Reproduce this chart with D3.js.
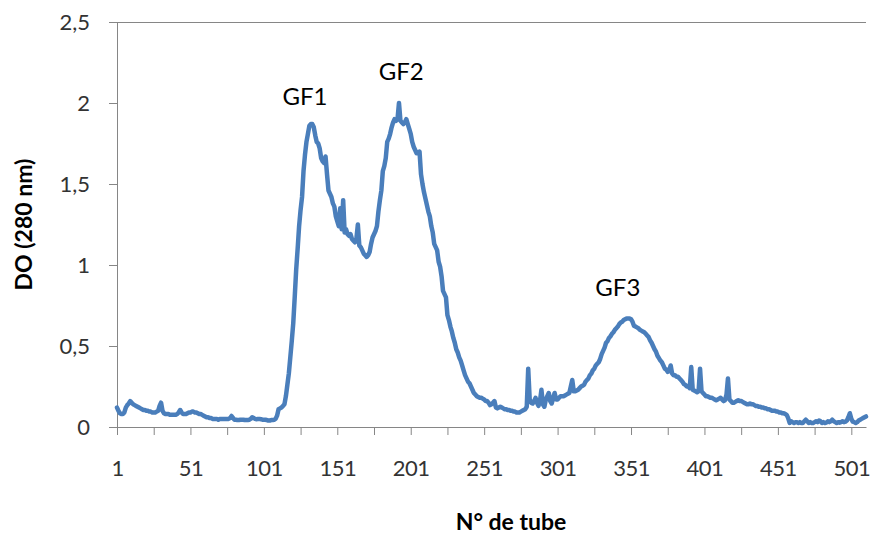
<!DOCTYPE html>
<html>
<head>
<meta charset="utf-8">
<script src="https://cdn.jsdelivr.net/npm/d3@7"></script>
<style>
  body { margin: 0; background: #fff; }
  text { font-family: Lato, "Open Sans", sans-serif; }
</style>
</head>
<body>
<div id="chart"></div>
<script>
// DO at 280 nm, one value per tube (tube 1 .. 511)
const od = [
  0.12, 0.10, 0.085, 0.08, 0.08, 0.09, 0.12, 0.135, 0.145, 0.16,
  0.15, 0.14, 0.135, 0.13, 0.125, 0.12, 0.115, 0.11, 0.105, 0.105,
  0.10, 0.10, 0.095, 0.095, 0.09, 0.09, 0.09, 0.095, 0.10, 0.13,
  0.15, 0.10, 0.085, 0.08, 0.08, 0.08, 0.075, 0.075, 0.075, 0.075,
  0.075, 0.08, 0.09, 0.105, 0.09, 0.08, 0.08, 0.08, 0.085, 0.09,
  0.09, 0.095, 0.095, 0.09, 0.09, 0.085, 0.08, 0.08, 0.075, 0.07,
  0.065, 0.06, 0.06, 0.055, 0.055, 0.05, 0.05, 0.05, 0.05, 0.045,
  0.05, 0.05, 0.05, 0.05, 0.05, 0.05, 0.05, 0.055, 0.068, 0.055,
  0.045, 0.045, 0.043, 0.043, 0.045, 0.045, 0.045, 0.043, 0.043, 0.043,
  0.045, 0.05, 0.06, 0.055, 0.05, 0.048, 0.05, 0.05, 0.048, 0.045,
  0.045, 0.045, 0.043, 0.04, 0.04, 0.043, 0.043, 0.045, 0.05, 0.07,
  0.11, 0.115, 0.12, 0.13, 0.14, 0.19, 0.26, 0.33, 0.43, 0.53,
  0.64, 0.80, 0.97, 1.10, 1.24, 1.34, 1.42, 1.58, 1.68, 1.76,
  1.81, 1.86, 1.87, 1.87, 1.85, 1.80, 1.76, 1.75, 1.72, 1.66,
  1.64, 1.63, 1.67, 1.56, 1.46, 1.44, 1.42, 1.38, 1.36, 1.30,
  1.27, 1.24, 1.35, 1.22, 1.40, 1.20, 1.22, 1.19, 1.18, 1.19,
  1.16, 1.15, 1.14, 1.16, 1.25, 1.12, 1.11, 1.09, 1.07, 1.06,
  1.05, 1.06, 1.08, 1.13, 1.17, 1.19, 1.21, 1.24, 1.33, 1.40,
  1.46, 1.58, 1.61, 1.66, 1.76, 1.78, 1.81, 1.85, 1.88, 1.90,
  1.89, 1.90, 2.00, 1.89, 1.88, 1.87, 1.88, 1.90, 1.87, 1.84,
  1.81, 1.76, 1.73, 1.71, 1.69, 1.69, 1.70, 1.56, 1.50, 1.45,
  1.41, 1.37, 1.33, 1.30, 1.24, 1.20, 1.13, 1.11, 1.09, 1.02,
  0.99, 0.93, 0.84, 0.82, 0.80, 0.69, 0.66, 0.62, 0.59, 0.55,
  0.52, 0.48, 0.46, 0.43, 0.41, 0.38, 0.35, 0.32, 0.30, 0.28,
  0.27, 0.25, 0.23, 0.21, 0.20, 0.19, 0.185, 0.18, 0.18, 0.175,
  0.17, 0.16, 0.16, 0.15, 0.135, 0.14, 0.15, 0.16, 0.12, 0.115,
  0.12, 0.125, 0.12, 0.115, 0.11, 0.11, 0.105, 0.105, 0.10, 0.10,
  0.095, 0.095, 0.09, 0.09, 0.09, 0.095, 0.10, 0.105, 0.11, 0.125,
  0.36, 0.17, 0.15, 0.145, 0.16, 0.18, 0.15, 0.13, 0.16, 0.23,
  0.14, 0.125, 0.17, 0.19, 0.21, 0.16, 0.145, 0.18, 0.21, 0.17,
  0.17, 0.18, 0.19, 0.19, 0.19, 0.195, 0.20, 0.205, 0.21, 0.25,
  0.29, 0.22, 0.22, 0.225, 0.23, 0.24, 0.25, 0.255, 0.26, 0.28,
  0.29, 0.30, 0.32, 0.33, 0.35, 0.36, 0.38, 0.39, 0.40, 0.42,
  0.45, 0.47, 0.49, 0.52, 0.53, 0.55, 0.56, 0.575, 0.585, 0.60,
  0.61, 0.62, 0.635, 0.645, 0.65, 0.66, 0.665, 0.67, 0.67, 0.67,
  0.665, 0.65, 0.625, 0.62, 0.615, 0.61, 0.60, 0.595, 0.59, 0.585,
  0.575, 0.565, 0.555, 0.535, 0.52, 0.50, 0.48, 0.465, 0.44, 0.425,
  0.41, 0.40, 0.38, 0.36, 0.355, 0.34, 0.35, 0.38, 0.33, 0.32,
  0.32, 0.31, 0.31, 0.30, 0.29, 0.28, 0.265, 0.26, 0.25, 0.25,
  0.24, 0.37, 0.23, 0.225, 0.22, 0.215, 0.22, 0.36, 0.22, 0.21,
  0.20, 0.19, 0.19, 0.185, 0.18, 0.18, 0.175, 0.17, 0.165, 0.17,
  0.175, 0.18, 0.17, 0.16, 0.165, 0.20, 0.30, 0.17, 0.16, 0.15,
  0.15, 0.155, 0.16, 0.165, 0.16, 0.16, 0.155, 0.15, 0.145, 0.14,
  0.14, 0.145, 0.14, 0.14, 0.135, 0.13, 0.13, 0.125, 0.125, 0.12,
  0.12, 0.115, 0.115, 0.11, 0.11, 0.105, 0.10, 0.10, 0.10, 0.095,
  0.095, 0.09, 0.09, 0.085, 0.085, 0.08, 0.075, 0.055, 0.025, 0.035,
  0.03, 0.025, 0.03, 0.03, 0.025, 0.03, 0.025, 0.025, 0.035, 0.045,
  0.035, 0.025, 0.03, 0.025, 0.025, 0.03, 0.035, 0.03, 0.04, 0.035,
  0.025, 0.03, 0.025, 0.027, 0.035, 0.03, 0.035, 0.045, 0.035, 0.03,
  0.025, 0.03, 0.027, 0.03, 0.035, 0.03, 0.033, 0.04, 0.06, 0.085,
  0.05, 0.033, 0.03, 0.025, 0.03, 0.04, 0.045, 0.05, 0.055, 0.06, 0.065
];

const xTickMarks = [1, 26, 51, 76, 101, 126, 151, 176, 201, 226, 251, 276,
                    301, 326, 351, 376, 401, 426, 451, 476, 501];
const xTickLabels = [1, 51, 101, 151, 201, 251, 301, 351, 401, 451, 501];
const yTicks = [0, 0.5, 1, 1.5, 2, 2.5];

// peak names, placed over the peaks (tube, DO of the text baseline)
const peakNames = ["GF1", "GF2", "GF3"];
const peakTubes = [129, 194.5, 342];
const peakLevels = [1.99, 2.145, 0.81];

const margin = {top: 22, right: 4, bottom: 109, left: 117},
    width = 870 - margin.left - margin.right,
    height = 536 - margin.top - margin.bottom;

const svg = d3.select("#chart")
    .append("svg")
    .attr("width", 870)
    .attr("height", 536)
    .append("g")
    .attr("transform", `translate(${margin.left}, ${margin.top})`);

const x = d3.scaleLinear()
    .domain([1, od.length])
    .range([0, width]);

const y = d3.scaleLinear()
    .domain([0, 2.5])
    .range([height, 0]);

const axisColor = "#868686";
const fmt = d => String(d).replace(".", ",");

// top border
svg.append("line")
    .attr("x1", 0).attr("x2", width)
    .attr("y1", 0.5).attr("y2", 0.5)
    .attr("stroke", axisColor);

// y axis
const yAxis = svg.append("g")
    .call(d3.axisLeft(y).tickValues(yTicks).tickSize(8).tickPadding(19).tickFormat(fmt));
yAxis.select(".domain").attr("stroke", axisColor);
yAxis.selectAll(".tick line").attr("stroke", axisColor);
yAxis.selectAll("text")
    .attr("font-family", "Lato, sans-serif")
    .attr("font-size", "22px")
    .attr("fill", "#333");

// x axis: tick marks every 25 tubes, labels every 50
const xAxis = svg.append("g")
    .attr("transform", `translate(0, ${height})`)
    .call(d3.axisBottom(x).tickValues(xTickMarks).tickSize(8).tickSizeOuter(0)
        .tickFormat(d => xTickLabels.includes(d) ? d : ""));
xAxis.select(".domain").attr("stroke", axisColor);
xAxis.selectAll(".tick line").attr("stroke", axisColor);
xAxis.selectAll("text")
    .attr("font-family", "Lato, sans-serif")
    .attr("font-size", "22px")
    .attr("letter-spacing", "-0.5px")
    .attr("fill", "#333")
    .attr("y", 49)
    .attr("dy", 0);

// curve
const line = d3.line()
    .x((d, i) => x(i + 1))
    .y(d => y(d));

svg.append("path")
    .datum(od)
    .attr("fill", "none")
    .attr("stroke", "#4a7ebb")
    .attr("stroke-width", 4.5)
    .attr("stroke-linejoin", "round")
    .attr("stroke-linecap", "round")
    .attr("d", line);

// peak labels
svg.selectAll(".peak")
    .data(peakNames)
    .enter().append("text")
    .attr("class", "peak")
    .attr("x", (d, i) => x(peakTubes[i]))
    .attr("y", (d, i) => y(peakLevels[i]))
    .attr("text-anchor", "middle")
    .attr("font-size", "24px")
    .attr("fill", "#000")
    .text(d => d);

// axis titles
svg.append("text")
    .attr("transform", `translate(${-85}, ${height / 2}) rotate(-90)`)
    .attr("text-anchor", "middle")
    .attr("font-weight", "bold")
    .attr("font-size", "23px")
    .attr("fill", "#000")
    .text("DO (280 nm)");

svg.append("text")
    .attr("x", 394)
    .attr("y", height + 103)
    .attr("text-anchor", "middle")
    .attr("font-weight", "bold")
    .attr("font-size", "23px")
    .attr("fill", "#000")
    .text("N° de tube");
</script>
</body>
</html>
